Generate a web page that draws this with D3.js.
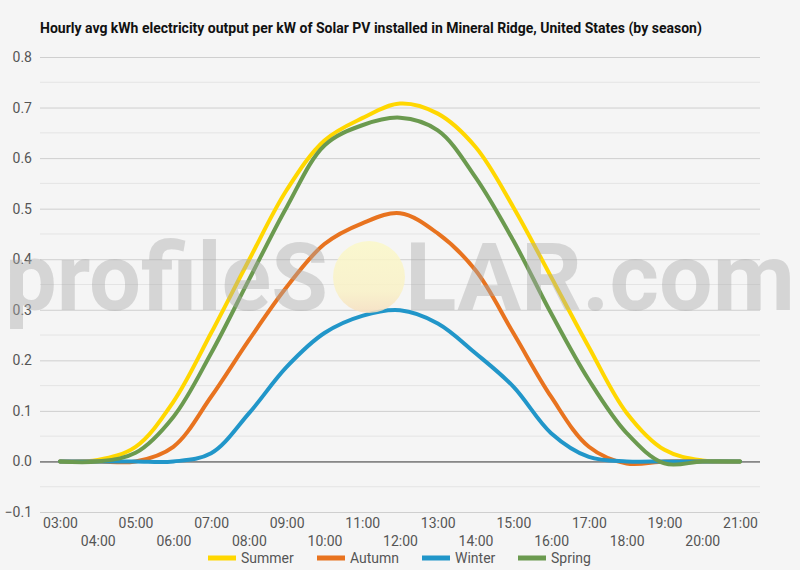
<!DOCTYPE html>
<html>
<head>
<meta charset="utf-8">
<script src="https://cdn.jsdelivr.net/npm/d3@7"></script>
<style>
  body { margin: 0; background: #f5f5f5; }
  svg { display: block; font-family: Roboto, "Noto Sans", sans-serif; }
</style>
</head>
<body>
<div id="chart"></div>
<script>
var hours = ["03:00","04:00","05:00","06:00","07:00","08:00","09:00","10:00","11:00","12:00",
             "13:00","14:00","15:00","16:00","17:00","18:00","19:00","20:00","21:00"];

var summer = [0, 0.003, 0.029, 0.118, 0.254, 0.398, 0.537, 0.635, 0.679, 0.708,
              0.688, 0.622, 0.503, 0.365, 0.226, 0.096, 0.023, 0.002, 0];
var autumn = [0, 0, 0, 0.029, 0.128, 0.24, 0.345, 0.43, 0.471, 0.491,
              0.451, 0.378, 0.254, 0.128, 0.029, -0.004, 0, 0, 0];
var winter = [0, 0, 0, 0, 0.016, 0.095, 0.187, 0.254, 0.288, 0.299,
              0.273, 0.214, 0.148, 0.056, 0.009, 0, 0, 0, 0];
var spring = [0, 0, 0.017, 0.088, 0.214, 0.359, 0.503, 0.625, 0.665, 0.68,
              0.655, 0.562, 0.437, 0.293, 0.161, 0.056, -0.004, 0, 0];

var seriesNames = ["Summer", "Autumn", "Winter", "Spring"];
var seriesColors = ["#ffd700", "#e8731f", "#2196c9", "#6b9a4f"];
var yTicks = [-0.1, 0, 0.1, 0.2, 0.3, 0.4, 0.5, 0.6, 0.7, 0.8];

var w = 800, h = 570;
var margin = {left: 40, right: 40, top: 57, bottom: 58};

var svg = d3.select("#chart").append("svg")
  .attr("width", w)
  .attr("height", h);

svg.append("rect").attr("width", w).attr("height", h).attr("fill", "#f5f5f5");

var x = d3.scalePoint()
  .domain(hours)
  .range([60, 740]);

var y = d3.scaleLinear()
  .domain([-0.1, 0.8])
  .range([h - margin.bottom, margin.top]);

// title
svg.append("text")
  .attr("x", 40)
  .attr("y", 33)
  .attr("font-size", 14)
  .attr("font-weight", "bold")
  .attr("fill", "#111")
  .text("Hourly avg kWh electricity output per kW of Solar PV installed in Mineral Ridge, United States (by season)");

// minor + major gridlines
var minor = d3.range(-0.05, 0.8, 0.1);
svg.append("g").selectAll("line")
  .data(minor)
  .enter().append("line")
  .attr("x1", margin.left).attr("x2", w - margin.right)
  .attr("y1", function(d) { return y(d); })
  .attr("y2", function(d) { return y(d); })
  .attr("stroke", "#e4e4e4")
  .attr("stroke-width", 1);

var yAxis = d3.axisLeft(y)
  .tickValues(yTicks)
  .tickSize(-(w - margin.left - margin.right))
  .tickPadding(8)
  .tickFormat(d3.format(".1f"));

var gy = svg.append("g")
  .attr("transform", "translate(" + margin.left + ",0)")
  .call(yAxis);
gy.select(".domain").remove();
gy.selectAll(".tick line")
  .attr("stroke", function(d) { return d === 0 ? "#333" : "#cfcfcf"; });
gy.selectAll(".tick text")
  .attr("font-size", 14)
  .attr("fill", "#555")
  .attr("font-family", "Roboto, sans-serif");

// x axis labels, staggered in two rows
var xAxis = d3.axisBottom(x).tickSize(0).tickPadding(0);
var gx = svg.append("g")
  .attr("transform", "translate(0," + y(-0.1) + ")")
  .call(xAxis);
gx.select(".domain").remove();
gx.selectAll(".tick text")
  .attr("font-size", 14)
  .attr("fill", "#555")
  .attr("font-family", "Roboto, sans-serif")
  .attr("dy", function(d, i) { return i % 2 === 0 ? "16" : "34"; });

// lines
var line = d3.line()
  .x(function(d, i) { return x(hours[i]); })
  .y(function(d) { return y(d); })
  .curve(d3.curveCatmullRom);

var allSeries = [summer, autumn, winter, spring];
svg.append("g").selectAll("path")
  .data(allSeries)
  .enter().append("path")
  .attr("d", line)
  .attr("fill", "none")
  .attr("stroke", function(d, i) { return seriesColors[i]; })
  .attr("stroke-width", 4)
  .attr("stroke-linejoin", "round")
  .attr("stroke-linecap", "round");

// watermark
var wm = svg.append("g").attr("pointer-events", "none");
var grad = svg.append("defs").append("linearGradient")
  .attr("id", "sun").attr("x1", 0).attr("y1", 0).attr("x2", 0).attr("y2", 1);
grad.append("stop").attr("offset", "0%").attr("stop-color", "#fbf8c8");
grad.append("stop").attr("offset", "70%").attr("stop-color", "#f9f1c6");
grad.append("stop").attr("offset", "100%").attr("stop-color", "#f6dfbf");
wm.append("circle")
  .attr("cx", 369).attr("cy", 277).attr("r", 36)
  .attr("fill", "url(#sun)")
  .attr("opacity", 0.85);
wm.append("text")
  .attr("x", 5).attr("y", 310)
  .attr("font-size", 95)
  .attr("font-weight", "bold")
  .attr("textLength", 323)
  .attr("lengthAdjust", "spacingAndGlyphs")
  .attr("fill", "rgba(170,170,170,0.42)")
  .text("profileS");
wm.append("text")
  .attr("x", 405).attr("y", 310)
  .attr("font-size", 95)
  .attr("font-weight", "bold")
  .attr("textLength", 390)
  .attr("lengthAdjust", "spacingAndGlyphs")
  .attr("fill", "rgba(170,170,170,0.42)")
  .text("LAR.com");

// legend
var legendX = [208, 317, 422, 518];
var lg = svg.append("g").selectAll("g")
  .data(seriesNames)
  .enter().append("g")
  .attr("transform", function(d, i) { return "translate(" + legendX[i] + ",558)"; });
lg.append("rect")
  .attr("x", 0).attr("y", -2.5)
  .attr("width", 28).attr("height", 5)
  .attr("fill", function(d, i) { return seriesColors[i]; });
lg.append("text")
  .attr("x", 33).attr("y", 5)
  .attr("font-size", 14)
  .attr("fill", "#555")
  .text(function(d) { return d; });
</script>
</body>
</html>
